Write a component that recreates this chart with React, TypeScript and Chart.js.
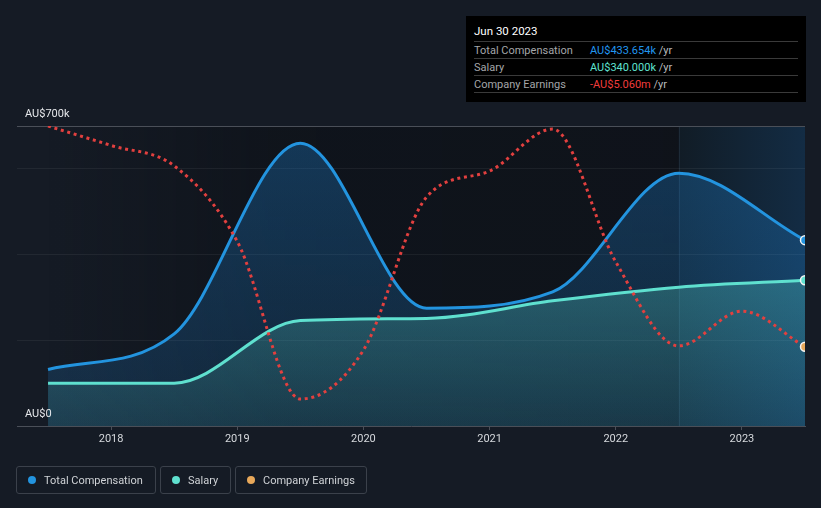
import React, { useEffect, useRef } from 'react';
import { Chart, registerables } from 'chart.js';

Chart.register(...registerables);

// ---- data ----
const compYears = [2017.5, 2018.5, 2019.5, 2020.5, 2021.5, 2022.5, 2023.5];
const totalCompensation = [132, 215, 660, 275, 313, 590, 433.654]; // AU$k
const salary = [100, 100, 246, 251, 292, 324, 340]; // AU$k
const earningsYears = [2017.5, 2018.0, 2018.5, 2019.0, 2019.5, 2020.0, 2020.5, 2021.0, 2021.5, 2022.0, 2022.5, 2023.0, 2023.5];
const companyEarnings = [2.3, 1.65, 0.97, -1.55, -6.8, -5.17, -0.07, 0.8, 2.2, -2.23, -5.03, -3.87, -5.06]; // AU$m
const xTickYears = [2018, 2019, 2020, 2021, 2022, 2023];
const yTickValues = [0, 200, 400, 600, 700];
const yLabelValues = [0, 700];
const yLabelTexts = ['AU$0', 'AU$700k'];
const highlightStart = 2022.5;

const BG = '#151b25';
const BLUE = '#2394df';
const TEAL = '#5fe0cf';
const RED = '#e2403f';
const ORANGE = '#e8a85a';

const FONT = 'Roboto, "Noto Sans", sans-serif';

const bgPlugin = {
  id: 'bgPlugin',
  beforeDraw(chart: any) {
    const { ctx, chartArea, scales } = chart;
    if (!chartArea) return;
    const x = scales.x;
    const xs = x.getPixelForValue(compYears[0]);
    const xh = x.getPixelForValue(highlightStart);
    const xr = chartArea.right;
    const top = chartArea.top;
    const h = chartArea.bottom - chartArea.top;
    ctx.save();
    let g = ctx.createLinearGradient(xs, 0, xh, 0);
    g.addColorStop(0, 'rgba(5,7,10,0.0)');
    g.addColorStop(0.35, 'rgba(5,7,10,0.33)');
    g.addColorStop(1, 'rgba(5,7,10,0.38)');
    ctx.fillStyle = g;
    ctx.fillRect(xs, top, xh - xs, h);
    g = ctx.createLinearGradient(xh, 0, xr, 0);
    g.addColorStop(0, '#111c26');
    g.addColorStop(1, '#132c44');
    ctx.fillStyle = g;
    ctx.fillRect(xh, top, xr - xh, h);
    ctx.fillStyle = 'rgba(120,150,180,0.12)';
    ctx.fillRect(Math.round(xh), top, 1, h);
    ctx.restore();
  },
  afterDraw(chart: any) {
    const { ctx, chartArea, scales } = chart;
    const y = scales.y;
    ctx.save();
    ctx.font = '11px ' + FONT;
    ctx.fillStyle = '#e6e8eb';
    ctx.textBaseline = 'middle';
    ctx.textAlign = 'left';
    yLabelValues.forEach((v, i) => {
      ctx.fillText(yLabelTexts[i], chartArea.left + 8, y.getPixelForValue(v) - 12);
    });
    ctx.restore();
  },
};

function vGradient(c: any, stops: [number, string][]) {
  const { chart } = c;
  const ca = chart.chartArea;
  if (!ca) return 'rgba(0,0,0,0)';
  const g = chart.ctx.createLinearGradient(0, ca.top, 0, ca.bottom);
  stops.forEach(([o, col]) => g.addColorStop(o, col));
  return g;
}

function lastOnly(n: number, r: number) {
  return (c: any) => (c.dataIndex === n - 1 ? r : 0);
}

export default function App() {
  const ref = useRef<HTMLCanvasElement | null>(null);

  useEffect(() => {
    document.body.style.margin = '0';
    document.body.style.background = BG;
    const canvas = ref.current;
    if (!canvas) return;
    const chart = new Chart(canvas, {
      type: 'line',
      data: {
        datasets: [
          {
            label: 'Company Earnings',
            data: earningsYears.map((x, i) => ({ x, y: companyEarnings[i] })),
            yAxisID: 'y2',
            borderColor: RED,
            borderWidth: 3,
            borderDash: [3, 3.7],
            borderCapStyle: 'butt',
            cubicInterpolationMode: 'monotone',
            fill: false,
            pointRadius: lastOnly(earningsYears.length, 4.5),
            pointBackgroundColor: ORANGE,
            pointBorderColor: '#f4f4f4',
            pointBorderWidth: 1.5,
          },
          {
            label: 'Salary',
            data: compYears.map((x, i) => ({ x, y: salary[i] })),
            yAxisID: 'y',
            borderColor: TEAL,
            borderWidth: 3,
            cubicInterpolationMode: 'monotone',
            fill: 'origin',
            backgroundColor: (c: any) =>
              vGradient(c, [
                [0, 'rgba(94,224,208,0.38)'],
                [0.5, 'rgba(94,224,208,0.27)'],
                [1, 'rgba(94,224,208,0.10)'],
              ]),
            pointRadius: lastOnly(compYears.length, 4.5),
            pointBackgroundColor: TEAL,
            pointBorderColor: '#f4f4f4',
            pointBorderWidth: 1.5,
          },
          {
            label: 'Total Compensation',
            data: compYears.map((x, i) => ({ x, y: totalCompensation[i] })),
            yAxisID: 'y',
            borderColor: BLUE,
            borderWidth: 3,
            cubicInterpolationMode: 'monotone',
            fill: 'origin',
            backgroundColor: (c: any) =>
              vGradient(c, [
                [0, 'rgba(33,150,243,0.28)'],
                [1, 'rgba(33,150,243,0.14)'],
              ]),
            pointRadius: lastOnly(compYears.length, 4.5),
            pointBackgroundColor: BLUE,
            pointBorderColor: '#f4f4f4',
            pointBorderWidth: 1.5,
          },
        ],
      },
      options: {
        responsive: false,
        animation: false,
        events: [],
        layout: { padding: { left: 17, right: 16, top: 126, bottom: 52 } },
        plugins: {
          legend: { display: false },
          tooltip: { enabled: false },
        },
        scales: {
          x: {
            type: 'linear',
            min: 2017.254,
            max: 2023.5,
            afterBuildTicks: (s: any) => {
              s.ticks = xTickYears.map((v) => ({ value: v }));
            },
            afterFit: (s: any) => {
              s.height = 30;
            },
            ticks: {
              color: '#d6d9dd',
              font: { family: FONT, size: 11 },
              padding: 3,
              maxRotation: 0,
              callback: (v: any) => String(v),
            },
            grid: {
              drawOnChartArea: false,
              drawTicks: true,
              tickLength: 4,
              color: '#4a4f58',
            },
            border: { display: true, color: '#4a4f58', width: 1 },
          },
          y: {
            type: 'linear',
            min: 0,
            max: 700,
            afterBuildTicks: (s: any) => {
              s.ticks = yTickValues.map((v) => ({ value: v }));
            },
            afterFit: (s: any) => {
              s.width = 0;
            },
            ticks: { display: false },
            grid: {
              drawTicks: false,
              color: (c: any) =>
                c.tick && c.tick.value === 700
                  ? '#4a4f58'
                  : c.tick && c.tick.value === 0
                  ? 'rgba(0,0,0,0)'
                  : 'rgba(255,255,255,0.06)',
            },
            border: { display: false },
          },
          y2: {
            type: 'linear',
            display: false,
            min: -7.7,
            max: 2.3,
          },
        },
      },
      plugins: [bgPlugin],
    } as any);
    return () => chart.destroy();
  }, []);

  const rowStyle: React.CSSProperties = {
    position: 'absolute',
    left: 8,
    width: 324,
    height: 17,
    borderTop: '1px solid #3a3a3a',
    boxSizing: 'border-box',
    display: 'flex',
    alignItems: 'center',
    fontSize: 11,
  };
  const labelStyle: React.CSSProperties = { width: 116, color: '#a4a6a9' };
  const unit = <span style={{ color: '#b8babd' }}>&nbsp;/yr</span>;

  const legendItems = [
    { text: 'Total Compensation', color: BLUE, left: 16, width: 140 },
    { text: 'Salary', color: TEAL, left: 160, width: 71 },
    { text: 'Company Earnings', color: ORANGE, left: 235, width: 132 },
  ];

  return (
    <div style={{ position: 'relative', width: 821, height: 508, background: BG, fontFamily: FONT, overflow: 'hidden' }}>
      <canvas ref={ref} width={821} height={508} style={{ position: 'absolute', left: 0, top: 0, width: 821, height: 508 }} />
      <div style={{ position: 'absolute', left: 466, top: 16, width: 340, height: 86, background: '#000' }}>
        <div style={{ position: 'absolute', left: 8, top: 8, height: 14, lineHeight: '14px', fontSize: 11.5, fontWeight: 400, color: '#ffffff' }}>
          Jun 30 2023
        </div>
        <div style={{ ...rowStyle, top: 25 }}>
          <span style={labelStyle}>Total Compensation</span>
          <span style={{ color: '#2196f0' }}>AU$433.654k</span>
          {unit}
        </div>
        <div style={{ ...rowStyle, top: 42 }}>
          <span style={labelStyle}>Salary</span>
          <span style={{ color: '#5fe3d0' }}>AU$340.000k</span>
          {unit}
        </div>
        <div style={{ ...rowStyle, top: 59, height: 18, borderBottom: '1px solid #3a3a3a' }}>
          <span style={labelStyle}>Company Earnings</span>
          <span style={{ color: '#f03c3c' }}>-AU$5.060m</span>
          {unit}
        </div>
      </div>
      {legendItems.map((it) => (
        <div
          key={it.text}
          style={{
            position: 'absolute',
            left: it.left,
            top: 466,
            width: it.width,
            height: 28,
            boxSizing: 'border-box',
            border: '1px solid #3b414b',
            borderRadius: 3,
            display: 'flex',
            alignItems: 'center',
            fontSize: 11,
            color: '#cfd2d6',
          }}
        >
          <span
            style={{
              display: 'inline-block',
              width: 8,
              height: 8,
              borderRadius: 4,
              background: it.color,
              marginLeft: 11,
              marginRight: 8,
            }}
          />
          {it.text}
        </div>
      ))}
    </div>
  );
}
